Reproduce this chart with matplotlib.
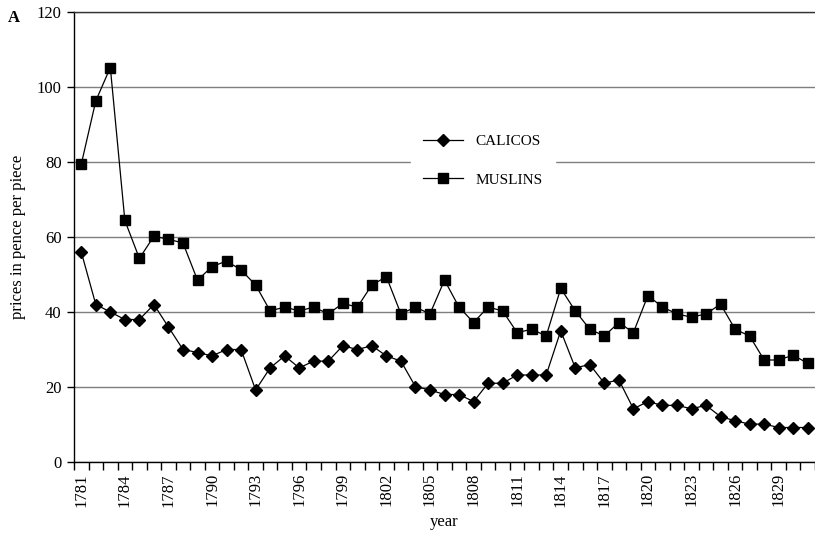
import matplotlib

matplotlib.use("Agg")
import matplotlib.pyplot as plt
import numpy as np

plt.rcParams["font.family"] = ["Liberation Serif", "DejaVu Serif"]

# prices in pence per piece, 1781-1831
years = list(range(1781, 1832))
calicos = [56, 42, 40, 38, 38, 42, 36, 30, 29.2, 28.3,
           30, 30, 19.2, 25.1, 28.3, 25.1, 26.9, 26.9, 31, 30,
           31, 28.3, 26.9, 20.1, 19.2, 18, 18, 16.1, 21, 21,
           23.2, 23.2, 23.2, 35, 25.1, 26, 21, 21.9, 14.2, 16.1,
           15.1, 15.1, 14.2, 15.1, 12.1, 11, 10.1, 10.1, 9.2, 9.2,
           9.2]
muslins = [79.4, 96.3, 105.2, 64.4, 54.3, 60.2, 59.4, 58.4, 48.5, 52.1,
           53.6, 51.2, 47.2, 40.3, 41.3, 40.3, 41.3, 39.5, 42.3, 41.3,
           47.2, 49.4, 39.5, 41.3, 39.5, 48.5, 41.3, 37.2, 41.3, 40.3,
           34.5, 35.4, 33.6, 46.3, 40.3, 35.4, 33.6, 37.2, 34.5, 44.4,
           41.3, 39.5, 38.6, 39.5, 42.1, 35.4, 33.6, 27.2, 27.2, 28.5,
           26.3]
tick_years = years[:-1:3]

fig = plt.figure(figsize=(8.15, 5.39), dpi=100)
ax = fig.add_axes([74 / 815, 1 - 462 / 539, 741 / 815, 450 / 539])

x = np.arange(len(years))
ax.plot(x, calicos, color="black", lw=0.9, marker="D", ms=6.5,
        label="CALICOS", clip_on=False, zorder=3)
ax.plot(x, muslins, color="black", lw=0.9, marker="s", ms=7,
        label="MUSLINS", clip_on=False, zorder=3)

ax.set_ylim(0, 120)
ax.set_xlim(-0.42, 50.1)
ax.set_yticks(range(0, 121, 20))
ax.yaxis.grid(True, color="#7f7f7f", lw=1)
ax.set_axisbelow(True)

# category boundaries carry the tick marks, labels every third year
ax.set_xticks(x[::3])
ax.set_xticklabels([str(y) for y in tick_years], rotation=90)
ax.set_xticks(np.arange(-0.5, len(years), 1), minor=True)
ax.tick_params(axis="x", which="major", length=0, pad=8, labelsize=12)
ax.tick_params(axis="x", which="minor", length=6, width=1, direction="out")
ax.tick_params(axis="y", length=5, width=1, labelsize=12, pad=4)

ax.spines["right"].set_visible(False)
for s in ("left", "bottom", "top"):
    ax.spines[s].set_linewidth(1)
ax.spines["top"].set_color("#333333")

ax.set_xlabel("year", fontsize=12, labelpad=5)
ax.set_ylabel("prices in pence per piece", fontsize=12, labelpad=8)

leg = ax.legend(loc="center", bbox_to_anchor=(0.552, 0.67), frameon=True,
                fontsize=11, handlelength=2.6, labelspacing=1.65,
                borderpad=0.8, handletextpad=0.8, borderaxespad=0)
leg.get_frame().set_edgecolor("white")
leg.get_frame().set_facecolor("white")
leg.get_frame().set_alpha(1)

fig.text(8 / 815, 1 - 18 / 539, "A", fontsize=12, fontweight="bold",
         va="center", ha="left")

fig.savefig("out.png", dpi=100)
plt.close()
